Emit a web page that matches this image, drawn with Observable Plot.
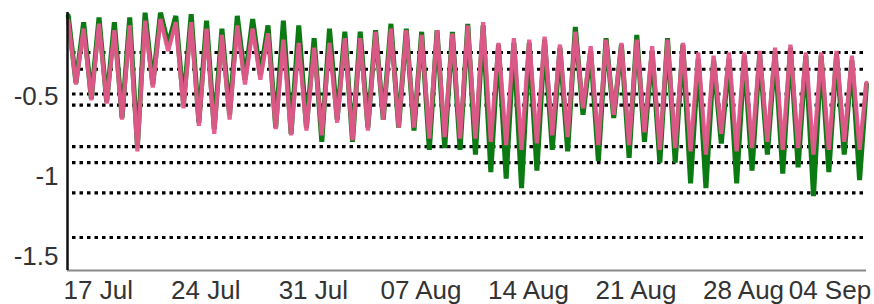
<!DOCTYPE html>
<html><head><meta charset="utf-8">
<script src="https://cdn.jsdelivr.net/npm/d3@7"></script>
<script src="https://cdn.jsdelivr.net/npm/@observablehq/plot@0.6"></script>
<style>body{margin:0;background:#fff} svg{display:block}</style>
</head><body><div id="chart"></div>
<script>
// ---- data ----
const startDate = "2023-07-15";
const xTickDates = ["2023-07-17","2023-07-24","2023-07-31","2023-08-07","2023-08-14","2023-08-21","2023-08-28","2023-09-04"];
const yTicks = [-0.5, -1, -1.5];
const yTickLabels = ["-0.5", "-1", "-1.5"];
const thresholds = [-0.22, -0.325, -0.48, -0.55, -0.81, -0.91, -1.10, -1.38];

// daily peak (just after midnight) and trough (around midday) of each series; last value = end of record
const pinkHigh = [-0.02,-0.07,-0.04,-0.08,-0.05,-0.02,-0.01,-0.03,-0.03,-0.07,-0.11,-0.05,-0.07,-0.10,-0.14,-0.16,-0.19,-0.16,-0.13,-0.13,-0.09,-0.07,-0.08,-0.11,-0.08,-0.10,-0.05,-0.03,-0.16,-0.13,-0.14,-0.12,-0.17,-0.09,-0.18,-0.14,-0.16,-0.14,-0.18,-0.14,-0.16,-0.22,-0.24,-0.22,-0.22,-0.21,-0.19,-0.17,-0.22,-0.22,-0.21,-0.24,-0.41];
const pinkLow = [-0.42,-0.52,-0.54,-0.64,-0.84,-0.44,-0.21,-0.57,-0.68,-0.73,-0.64,-0.42,-0.39,-0.70,-0.74,-0.71,-0.74,-0.66,-0.77,-0.71,-0.64,-0.69,-0.69,-0.76,-0.75,-0.76,-0.76,-0.78,-0.80,-0.83,-0.79,-0.74,-0.75,-0.57,-0.80,-0.61,-0.80,-0.72,-0.83,-0.82,-0.84,-0.86,-0.73,-0.84,-0.82,-0.78,-0.83,-0.82,-0.86,-0.83,-0.78,-0.83];
const greenHigh = [0.01,-0.03,0.00,-0.03,0.00,0.03,0.03,0.01,0.02,-0.02,-0.07,0.01,-0.01,-0.05,-0.02,-0.05,-0.13,-0.07,-0.09,-0.09,-0.08,-0.04,-0.07,-0.09,-0.08,-0.09,-0.04,-0.05,-0.17,-0.16,-0.16,-0.14,-0.19,-0.06,-0.21,-0.13,-0.17,-0.11,-0.21,-0.13,-0.17,-0.26,-0.27,-0.26,-0.24,-0.23,-0.22,-0.19,-0.24,-0.24,-0.23,-0.27,-0.42];
const greenLow = [-0.41,-0.51,-0.53,-0.63,-0.81,-0.42,-0.17,-0.54,-0.66,-0.70,-0.61,-0.39,-0.36,-0.69,-0.73,-0.69,-0.78,-0.64,-0.78,-0.69,-0.64,-0.69,-0.71,-0.83,-0.82,-0.83,-0.86,-0.97,-1.01,-1.07,-0.96,-0.83,-0.84,-0.61,-0.90,-0.63,-0.88,-0.78,-0.91,-0.91,-1.04,-1.07,-0.79,-1.04,-0.96,-0.86,-0.98,-0.94,-1.12,-0.97,-0.86,-1.02];

// ---- build time series ----
const DAY = 864e5;
const t0 = new Date(startDate + "T00:00:00Z").getTime();
function series(high, low) {
  const rows = [];
  for (let d = 0; d < high.length; d++) {
    rows.push({t: new Date(t0 + (d + (d === high.length - 1 ? 0 : 0.05)) * DAY), v: high[d]});
    if (d < low.length) rows.push({t: new Date(t0 + (d + 0.55) * DAY), v: low[d]});
  }
  return rows;
}
const pink = series(pinkHigh, pinkLow);
const green = series(greenHigh, greenLow);
const xStart = new Date(t0);
const xEnd = pink[pink.length - 1].t;
const ticks = xTickDates.map(s => new Date(s + "T00:00:00Z"));
const fmt = d3.utcFormat("%d %b");

const chart = Plot.plot({
  width: 874, height: 304,
  marginLeft: 67, marginRight: 8, marginTop: 12, marginBottom: 34,
  style: {fontFamily: "'Liberation Sans', Arial, sans-serif", background: "#fff", overflow: "visible"},
  x: {type: "utc", domain: [xStart, xEnd]},
  y: {domain: [-1.587, 0.031]},
  marks: [
    Plot.ruleY(thresholds, {stroke: "#000", strokeWidth: 3.2, strokeDasharray: "3.5,4", insetLeft: 5}),
    Plot.lineY(green, {x: "t", y: "v", stroke: "#0b7a12", strokeWidth: 5, strokeLinejoin: "miter"}),
    Plot.lineY(pink, {x: "t", y: "v", stroke: "#e5568c", strokeWidth: 4.2, strokeOpacity: 0.95, strokeLinejoin: "miter"}),
    Plot.ruleY([-1.587], {stroke: "#8a8a8a", strokeWidth: 2}),
    Plot.ruleX([xStart], {stroke: "#111", strokeWidth: 2.5}),
    Plot.axisY({ticks: yTicks, tickFormat: d => yTickLabels[yTicks.indexOf(d)], tickSize: 0, tickPadding: 9, fontSize: 26, fill: "#333", label: null}),
    Plot.axisX({ticks: ticks.slice(0, -1), tickFormat: fmt, tickSize: 0, tickPadding: 10, fontSize: 26, fill: "#333", label: null}),
    Plot.axisX({ticks: ticks.slice(-1), tickFormat: fmt, tickSize: 0, tickPadding: 10, fontSize: 26, fill: "#333", label: null, textAnchor: "end", dx: 20})
  ]
});
document.getElementById("chart").appendChild(chart);
</script>
</body></html>
